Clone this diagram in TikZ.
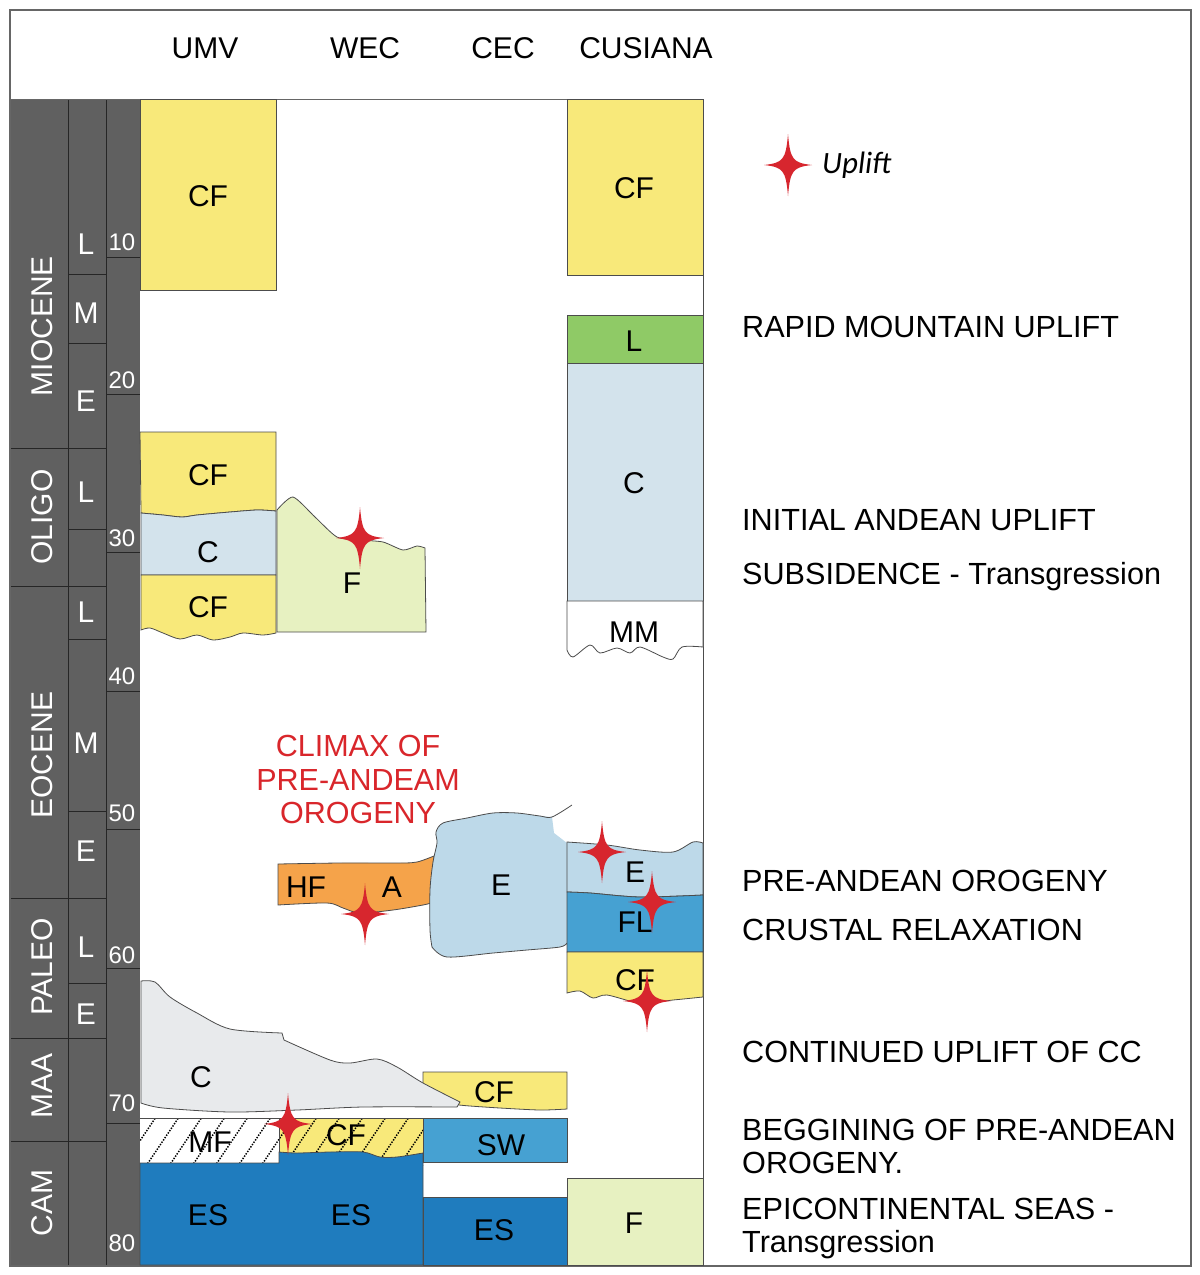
\documentclass[tikz,border=0pt]{standalone}
\usepackage{fontspec}
\setmainfont{Liberation Sans}
\newfontfamily\upfont{Carlito}
\definecolor{yel}{HTML}{F8E97A}
\definecolor{cblue}{HTML}{D3E3EC}
\definecolor{fgreen}{HTML}{E7F1C1}
\definecolor{lgreen}{HTML}{8FCA66}
\definecolor{orng}{HTML}{F5A34A}
\definecolor{eblue}{HTML}{BDD9E9}
\definecolor{flblue}{HTML}{46A1D2}
\definecolor{esblue}{HTML}{1F7CBE}
\definecolor{grayc}{HTML}{E8EAEC}
\definecolor{chrono}{HTML}{606060}
\definecolor{starred}{HTML}{D7262E}
\definecolor{txtred}{HTML}{D9262B}
\tikzset{
  blk/.style={draw=black!70, line width=0.8pt},
  lbl/.style={font=\fontsize{30}{34}\selectfont, inner sep=0pt, anchor=base},
  side/.style={font=\fontsize{30.6}{34}\selectfont, inner sep=0pt, anchor=base west},
  epoch/.style={font=\fontsize{30}{34}\selectfont, text=white, inner sep=0pt, rotate=90},
  subep/.style={font=\fontsize{30}{34}\selectfont, text=white, inner sep=0pt},
  agenum/.style={font=\fontsize{24}{28}\selectfont, text=white, inner sep=0pt},
  redlbl/.style={font=\fontsize{30.5}{34}\selectfont, text=txtred, inner sep=0pt, anchor=base},
  chline/.style={draw=black!85, line width=0.9pt},
  hatch/.style={black, line width=1.5pt, dash pattern=on 1.4pt off 1.4pt},
  upliftstar/.pic={\fill[starred] (0,-31) .. controls (2.2,-5) and (5,-2.2) .. (24,0)
      .. controls (5,2.2) and (2.2,5) .. (0,31)
      .. controls (-2.2,5) and (-5,2.2) .. (-24,0)
      .. controls (-5,-2.2) and (-2.2,-5) .. cycle;}
}
\begin{document}
\begin{tikzpicture}[x=1pt,y=-1pt]
\useasboundingbox (0,0) rectangle (1200,1275);
\fill[white] (0,0) rectangle (1200,1275);

% ---------- chronology column ----------
\fill[chrono] (10,99) rectangle (140,1265);
\draw[chline] (68,99) -- (68,1265);
\draw[chline] (106,99) -- (106,1265);
\foreach \yy in {448,586,898,1038,1141} \draw[chline] (10,\yy) -- (106,\yy);
\foreach \yy in {274,343,529,639,811,983} \draw[chline] (68,\yy) -- (106,\yy);
\foreach \yy in {257,394,552,691,829,968,1123} \draw[chline] (106,\yy) -- (140,\yy);

\node[epoch] (miocene) at (42,326) {MIOCENE};
\node[epoch] (oligo) at (42,517) {OLIGO};
\node[epoch] (eocene) at (42,755) {EOCENE};
\node[epoch] (paleo) at (42,967) {PALEO};
\node[epoch] (maa) at (42,1086) {MAA};
\node[epoch] (cam) at (42,1203) {CAM};

\node[subep] (mioL) at (86,244) {L};
\node[subep] (mioM) at (86,313) {M};
\node[subep] (mioE) at (86,401) {E};
\node[subep] (oliL) at (86,492) {L};
\node[subep] (eoL) at (86,612) {L};
\node[subep] (eoM) at (86,743) {M};
\node[subep] (eoE) at (86,851) {E};
\node[subep] (paL) at (86,947) {L};
\node[subep] (paE) at (86,1014) {E};

\node[agenum] (a10) at (122,242) {10};
\node[agenum] (a20) at (122,380) {20};
\node[agenum] (a30) at (122,538) {30};
\node[agenum] (a40) at (122,676) {40};
\node[agenum] (a50) at (122,813) {50};
\node[agenum] (a60) at (122,955) {60};
\node[agenum] (a70) at (122,1103) {70};
\node[agenum] (a80) at (122,1243) {80};

% ---------- frame ----------
\draw[black!60, line width=1.2pt] (10,10) rectangle (1191,1266);
\draw[black!60, line width=1pt] (10,99) -- (703,99);
\draw[black!70, line width=1pt] (703,99) -- (703,1265);

% ---------- headers ----------
\node[lbl] (hUMV) at (205,58) {UMV};
\node[lbl] (hWEC) at (365,58) {WEC};
\node[lbl] (hCEC) at (503,58) {CEC};
\node[lbl] (hCUS) at (646,58) {CUSIANA};

% ---------- UMV ----------
\draw[blk, fill=yel] (140,99) rectangle (276,290);
\draw[blk, fill=yel] (140,432) -- (276,432) -- (276,511)
  -- plot[smooth] coordinates {(276,511) (257,510) (230,512) (197,515) (182,517) (163,515) (141,513)} -- cycle;
\draw[blk, fill=cblue] plot[smooth] coordinates {(141,513) (163,515) (182,517) (197,515) (230,512) (257,510) (276,511)}
  -- (276,575) -- (141,575) -- cycle;
\draw[blk, fill=yel] (141,575) -- (276,575) -- (276,633)
  -- plot[smooth] coordinates {(276,633) (263,635) (243,633) (230,637) (213,640) (197,635) (180,639) (163,633) (150,628) (141,630)} -- cycle;
\node[lbl] (umvCF1) at (208,206) {CF};
\node[lbl] (umvCF2) at (208,485) {CF};
\node[lbl] (umvC) at (208,562) {C};
\node[lbl] (umvCF3) at (208,617) {CF};

% WEC F (Oligocene)
\draw[blk, fill=fgreen] (277,632) -- (277,510)
  -- plot[smooth, tension=0.4] coordinates {(277,510) (293,497) (315,517) (337,537) (360,540) (383,542) (403,550) (417,546) (425,548)}
  -- (426,632) -- cycle;
\node[lbl] (wecF) at (352,593) {F};

% ---------- CUSIANA ----------
\draw[blk, fill=yel] (567,99) rectangle (703,275);
\draw[blk, fill=lgreen] (567,315) rectangle (703,363);
\draw[blk, fill=cblue] (567,363) rectangle (703,601);
\draw[blk, fill=white] (567,601) -- (703,601) -- (703,647)
  -- plot[smooth, tension=0.5] coordinates {(703,647) (682,647) (673,659) (663,657) (640,647) (630,653) (617,648) (600,653) (590,645) (573,657) (567,650)} -- cycle;
\node[lbl] (cusCF1) at (634,198) {CF};
\node[lbl] (cusL) at (634,351) {L};
\node[lbl] (cusC) at (634,493) {C};
\node[lbl] (cusMM) at (634,642) {MM};

% ---------- Eocene / Paleocene ----------
\draw[blk, fill=orng] plot[smooth] coordinates {(278,864) (340,863) (400,863) (417,862) (434,856)}
  -- (431,903)
  -- plot[smooth] coordinates {(431,903) (423,905) (393,910) (360,913) (343,908) (327,903) (278,905)} -- cycle;

\fill[eblue] plot[smooth] coordinates {(432,947) (430,930) (430,890) (433,862) (437,843) (436,832) (443,823) (467,818) (493,813) (517,813) (540,816) (552,817)}
  -- (554,833) -- (567,843) -- (567,943)
  -- plot[smooth] coordinates {(567,943) (560,947) (527,950) (493,953) (447,957) (432,947)} -- cycle;
\draw[blk] plot[smooth] coordinates {(432,947) (430,930) (430,890) (433,862) (437,843) (436,832) (443,823) (467,818) (493,813) (517,813) (540,816) (552,817) (572,805)};
\draw[blk] plot[smooth] coordinates {(567,943) (560,947) (527,950) (493,953) (447,957) (432,947)};
\node[lbl] (ohf) at (306,897) {HF};
\node[lbl] (oa) at (392,897) {A};
\node[lbl] (oe) at (501,895) {E};

\draw[blk, fill=eblue] plot[smooth] coordinates {(567,842) (607,845) (640,850) (673,852) (693,842) (703,843)}
  -- (703,895) -- plot[smooth] coordinates {(703,895) (640,897) (590,893) (567,892)} -- cycle;
\draw[blk, fill=flblue] plot[smooth] coordinates {(567,892) (590,893) (640,897) (703,895)}
  -- (703,952) -- (567,952) -- cycle;
\draw[blk, fill=yel] (567,952) -- (703,952) -- (703,997)
  -- plot[smooth] coordinates {(703,997) (673,1000) (640,1003) (607,995) (593,998) (580,991) (567,993)} -- cycle;
\node[lbl] (cusE) at (635,882) {E};
\node[lbl] (cusFL) at (635,932) {FL};
\node[lbl] (cusCF2) at (635,990) {CF};

% ---------- Maastrichtian / Campanian ----------
\draw[blk, fill=yel] (423,1072) -- (567,1072) -- (567,1109)
  -- plot[smooth] coordinates {(567,1109) (540,1110) (500,1108) (470,1106) (459,1105)}
  -- (423,1084) -- cycle;
\draw[blk, fill=grayc] plot[smooth, tension=0.5] coordinates {(141,981) (155,982) (170,997) (197,1013) (230,1029) (282,1033)}
  -- (284,1040)
  -- plot[smooth, tension=0.5] coordinates {(284,1040) (330,1060) (350,1063) (377,1059) (397,1067) (423,1083) (460,1102)}
  -- (457,1107)
  -- plot[smooth, tension=0.5] coordinates {(457,1107) (363,1107) (297,1110) (230,1112) (163,1108) (141,1103)} -- cycle;
\node[lbl] (maaC) at (201,1087) {C};
\node[lbl] (cecCF) at (494,1102) {CF};

\fill[white] (140,1118) rectangle (279,1163);
\fill[yel] (279,1118) rectangle (423,1160);
\begin{scope}
  \clip (140,1118) rectangle (423,1165);
  \foreach \i in {100,123,...,450} \draw[hatch] (\i,1166) -- ++(33,-49);
\end{scope}
\draw[blk] (140,1118) -- (423,1118);
\draw[blk] (279,1118) -- (279,1163);
\draw[blk, fill=esblue] (140,1163) -- (279,1163) -- (279,1152)
  -- plot[smooth] coordinates {(279,1152) (297,1153) (330,1152) (363,1152) (380,1157) (397,1157) (423,1153)}
  -- (423,1265) -- (140,1265) -- cycle;
\draw[blk, fill=flblue] (423,1118) rectangle (567,1162);
\draw[blk, fill=esblue] (423,1197) rectangle (567,1265);
\draw[blk, fill=fgreen] (567,1178) rectangle (703,1265);
\node[lbl] (mf) at (210,1152) {MF};
\node[lbl] (hcf) at (346,1145) {CF};
\node[lbl] (sw) at (501,1155) {SW};
\node[lbl] (es1) at (208,1225) {ES};
\node[lbl] (es2) at (351,1225) {ES};
\node[lbl] (es3) at (494,1240) {ES};
\node[lbl] (cusF) at (634,1233) {F};

% ---------- red title ----------
\node[redlbl] (clim1) at (358,756) {CLIMAX OF};
\node[redlbl] (clim2) at (358,790) {PRE-ANDEAM};
\node[redlbl] (clim3) at (358,823) {OROGENY};

% ---------- uplift stars ----------
\pic at (360,538) {upliftstar};
\pic at (365,914) {upliftstar};
\pic at (288,1124) {upliftstar};
\pic at (602,852) {upliftstar};
\pic at (652,902) {upliftstar};
\pic at (647,1001) {upliftstar};
\pic at (788,165) {upliftstar};
\node[inner sep=0pt, anchor=base west, font=\upfont\itshape\fontsize{31}{34}\selectfont] (uplift) at (822,173) {Uplift};

% ---------- events ----------
\node[side] (ev1) at (742,337) {RAPID MOUNTAIN UPLIFT};
\node[side] (ev2) at (742,530) {INITIAL ANDEAN UPLIFT};
\node[side] (ev3) at (742,584) {SUBSIDENCE - Transgression};
\node[side] (ev4) at (742,891) {PRE-ANDEAN OROGENY};
\node[side] (ev5) at (742,940) {CRUSTAL RELAXATION};
\node[side] (ev6) at (742,1062) {CONTINUED UPLIFT OF CC};
\node[side] (ev7a) at (742,1140) {BEGGINING OF PRE-ANDEAN};
\node[side] (ev7b) at (742,1173) {OROGENY.};
\node[side] (ev8a) at (742,1219) {EPICONTINENTAL SEAS -};
\node[side] (ev8b) at (742,1252) {Transgression};
\end{tikzpicture}
\end{document}
